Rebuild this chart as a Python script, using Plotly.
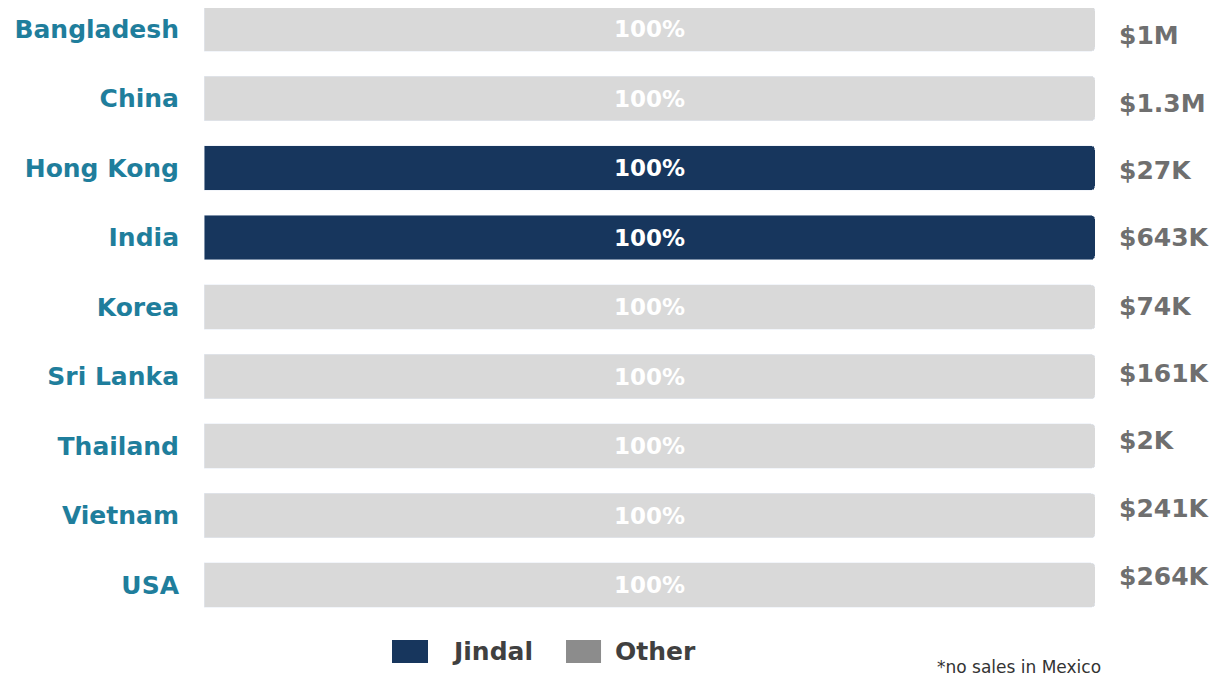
import plotly.graph_objects as go

countries = ["Bangladesh", "China", "Hong Kong", "India", "Korea",
             "Sri Lanka", "Thailand", "Vietnam", "USA"]
jindal_share = [0, 0, 100, 100, 0, 0, 0, 0, 0]
other_share = [100, 100, 0, 0, 100, 100, 100, 100, 100]
sales_labels = ["$1M", "$1.3M", "$27K", "$643K", "$74K",
                "$161K", "$2K", "$241K", "$264K"]
# the totals column in the source is spaced a little tighter than the bars
label_yshift = [-6, -5, -2, 0, 1, 3, 6, 7, 9]

NAVY = "#17365D"
LIGHT = "#D9D9D9"
LEGEND_OTHER = "#8C8C8C"
FONT = "DejaVu Sans"

fig = go.Figure()

fig.add_trace(go.Bar(
    y=countries, x=jindal_share, orientation="h", name="Jindal",
    marker_color=NAVY, showlegend=False,
    text=[f"{v}%" if v else "" for v in jindal_share],
    textposition="inside", insidetextanchor="middle",
    textfont=dict(color="white", size=23, family=FONT, weight="bold"),
))
fig.add_trace(go.Bar(
    y=countries, x=other_share, orientation="h", name="Other",
    marker=dict(color=LIGHT, cornerradius=4), showlegend=False,
    text=[f"{v}%" if v else "" for v in other_share],
    textposition="inside", insidetextanchor="middle",
    textfont=dict(color="white", size=23, family=FONT, weight="bold"),
))

# totals to the right of each bar
for c, lab, sh in zip(countries, sales_labels, label_yshift):
    fig.add_annotation(x=1.025, y=c, text=lab, xref="paper", yref="y",
                       xanchor="left", showarrow=False, yshift=sh,
                       font=dict(size=25, color="#6F6F6F", family=FONT, weight="bold"))

# hand-drawn legend (the Other swatch is darker than its bars)
for x0, x1, col, name, tx in [(0.211, 0.2514, NAVY, "Jindal", 0.276),
                              (0.4063, 0.4456, LEGEND_OTHER, "Other", 0.459)]:
    fig.add_shape(type="rect", xref="paper", yref="paper", x0=x0, x1=x1,
                  y0=-0.0703, y1=-0.0327, fillcolor=col, line_width=0)
    fig.add_annotation(x=tx, y=-0.0507, xref="paper", yref="paper", text=name,
                       xanchor="left", yanchor="middle", showarrow=False,
                       font=dict(size=25, color="#404040", family=FONT, weight="bold"))

fig.add_annotation(x=1.009, y=-0.0768, xref="paper", yref="paper",
                   text="*no sales in Mexico", xanchor="right", yanchor="middle",
                   showarrow=False, font=dict(size=17, color="#333333", family=FONT))

fig.update_layout(
    width=1211, height=669,
    margin=dict(l=196, r=124, t=0, b=57),
    barmode="stack", bargap=0.36,
    plot_bgcolor="white", paper_bgcolor="white",
    font=dict(family=FONT),
    showlegend=False,
    xaxis=dict(range=[0, 100], visible=False, fixedrange=True),
    yaxis=dict(categoryorder="array", categoryarray=countries,
               range=[8.5, -0.302], showgrid=False, ticks="",
               ticklabelstandoff=24, zeroline=False,
               tickfont=dict(size=25, color="#1F7E9C", family=FONT, weight="bold")),
)

fig.write_html("out.html")
